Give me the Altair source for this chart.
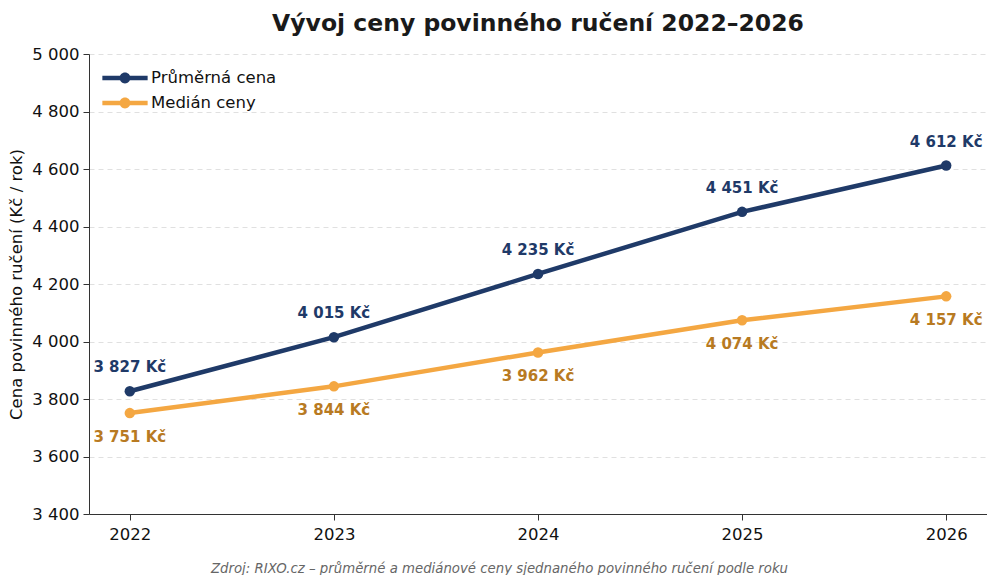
import altair as alt
import pandas as pd

years = [2022, 2023, 2024, 2025, 2026]
avg_price = [3827, 4015, 4235, 4451, 4612]
median_price = [3751, 3844, 3962, 4074, 4157]
series_names = ["Průměrná cena", "Medián ceny"]
line_colors = ["#1f3a68", "#f4a742"]
label_colors = ["#1f3a68", "#b87a22"]

def fmt(v):
    return f"{v:,}".replace(",", " ") + " Kč"

rows = []
for y, a, m in zip(years, avg_price, median_price):
    rows.append({"rok": y, "cena": a, "serie": series_names[0], "label": fmt(a)})
    rows.append({"rok": y, "cena": m, "serie": series_names[1], "label": fmt(m)})
df = pd.DataFrame(rows)

FONT = "DejaVu Sans"

legend_path = ("M-1,-0.1L1,-0.1L1,0.1L-1,0.1Z "
               "M0.24,0A0.24,0.24 0 1,1 -0.24,0A0.24,0.24 0 1,1 0.24,0Z")

legend = alt.Legend(
    title=None, orient="none", legendX=13, legendY=14,
    symbolType=legend_path, symbolSize=2050, symbolStrokeWidth=0,
    labelFontSize=16.5, labelFont=FONT, labelColor="#111", rowPadding=5, clipHeight=20,
    symbolOffset=0, labelOffset=3, symbolOpacity=1,
)

color = alt.Color("serie:N", scale=alt.Scale(domain=series_names, range=line_colors), legend=legend)

x = alt.X("rok:Q", scale=alt.Scale(domain=[2021.8, 2026.2], nice=False, zero=False),
          axis=alt.Axis(values=years, format="d", grid=False, labelFontSize=16.5, labelFont=FONT,
                        labelColor="#111", tickColor="#333", domainColor="#333", tickSize=6,
                        labelPadding=6,
                        title="Zdroj: RIXO.cz – průměrné a mediánové ceny sjednaného povinného ručení podle roku",
                        titleFont=FONT, titleFontSize=13.3, titleFontStyle="italic", titleFontWeight="normal",
                        titleColor="#666", titlePadding=19, titleX=410, titleAnchor="start", titleAlign="center"))
y = alt.Y("cena:Q", scale=alt.Scale(domain=[3400, 5000], nice=False, zero=False),
          axis=alt.Axis(values=list(range(3400, 5001, 200)),
                        labelExpr="replace(format(datum.value, ','), ',', ' ')",
                        labelFontSize=16.5, labelFont=FONT, labelColor="#111",
                        tickColor="#333", domainColor="#333", tickSize=6, labelPadding=4,
                        gridColor="#e0e0e0", gridDash=[5, 4], gridWidth=1,
                        title="Cena povinného ručení (Kč / rok)", titleFont=FONT, titleFontSize=16.5,
                        titleFontWeight="normal", titleColor="#111", titlePadding=7))

base = alt.Chart(df)
points = base.mark_point(filled=True, size=110, opacity=1).encode(x=x, y=y, color=color)
lines = base.mark_line(strokeWidth=4.5).encode(x=x, y=y, color=color)

lab_avg = base.transform_filter(alt.datum.serie == series_names[0]).mark_text(
    dy=-24, fontSize=15, fontWeight="bold", font=FONT, color=label_colors[0]
).encode(x=x, y=y, text="label:N")
lab_med = base.transform_filter(alt.datum.serie == series_names[1]).mark_text(
    dy=24, fontSize=15, fontWeight="bold", font=FONT, color=label_colors[1]
).encode(x=x, y=y, text="label:N")

chart = alt.layer(points, lines, lab_avg, lab_med).properties(
    width=898, height=460,
    padding={"left": 0, "top": 3, "right": 0, "bottom": 0},
    title=alt.TitleParams("Vývoj ceny povinného ručení 2022–2026", font=FONT, fontSize=23.5,
                          fontWeight="bold", color="#1a1a1a", offset=11, anchor="middle"),
    background="white",
).configure_view(stroke=None)

chart.save("out.html", embed_options={"renderer": "svg", "actions": False})
